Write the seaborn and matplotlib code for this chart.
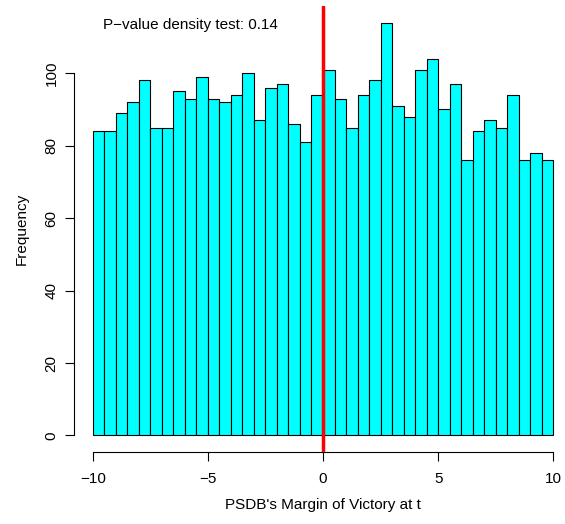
import numpy as np
import pandas as pd
import matplotlib
matplotlib.use("Agg")
import matplotlib.pyplot as plt
import seaborn as sns

# Data: histogram counts of PSDB's margin of victory, bins of width 0.5 from -10 to 10
bin_start, bin_end, bin_width = -10, 10, 0.5
counts = [84, 84, 89, 92, 98, 85, 85, 95, 93, 99,
          93, 92, 94, 100, 87, 96, 97, 86, 81, 94,
          101, 93, 85, 94, 98, 114, 91, 88, 101, 104,
          90, 97, 76, 84, 87, 85, 94, 76, 78, 76]
x_ticks = [-10, -5, 0, 5, 10]
y_ticks = [0, 20, 40, 60, 80, 100]
cutoff = 0
annotation = "P\u2212value density test: 0.14"
x_label = "PSDB's Margin of Victory at t"
y_label = "Frequency"

centers = bin_start + bin_width * (np.arange(len(counts)) + 0.5)
df = pd.DataFrame({"margin": centers, "count": counts})

sns.set_style("white")
plt.rcParams["font.family"] = ["Liberation Sans", "DejaVu Sans"]
plt.rcParams["axes.unicode_minus"] = True

W, H = 565, 524
fig = plt.figure(figsize=(W / 100, H / 100), dpi=100)
left_px, right_px, top_px, bot_px = 74.3, 571.7, 6.0, 452.0
ax = fig.add_axes([left_px / W, 1 - bot_px / H, (right_px - left_px) / W, (bot_px - top_px) / H])

sns.histplot(data=df, x="margin", weights="count", binwidth=bin_width,
             binrange=(bin_start, bin_end), stat="count",
             color="#00FFFF", edgecolor="black", linewidth=0.8, alpha=1.0, ax=ax)

ax.set_xlim(-10.8, 10.8)
ax.set_ylim(-4.56, 118.56)

ax.axvline(cutoff, color="#FF0000", lw=2.5, zorder=5)

for s in ["top", "right"]:
    ax.spines[s].set_visible(False)
ax.spines["left"].set_bounds(0, 100)
ax.spines["bottom"].set_bounds(-10, 10)
for s in ["left", "bottom"]:
    ax.spines[s].set_color("black")
    ax.spines[s].set_linewidth(0.8)

ax.set_xticks(x_ticks)
ax.set_yticks(y_ticks)
ax.set_xticklabels([str(v).replace("-", "\u2212") for v in x_ticks])
ax.set_yticklabels([str(v) for v in y_ticks], rotation=90, va="center")
ax.tick_params(axis="both", which="major", direction="out", length=6.3, width=0.8,
               color="black", labelsize=11, labelcolor="black", left=True, bottom=True)
ax.tick_params(axis="x", pad=8)
ax.tick_params(axis="y", pad=5)

ax.set_xlabel(x_label, fontsize=11, color="black")
ax.set_ylabel(y_label, fontsize=11, color="black")
ax.xaxis.set_label_coords(0.5, -53 / (bot_px - top_px))
ax.xaxis.label.set_va("center")
ax.yaxis.set_label_coords((22 - left_px) / (right_px - left_px), 0.5)
ax.yaxis.label.set_va("center")

fig.text(103.3 / W, 1 - 25 / H, annotation, fontsize=11, ha="left", va="center", color="black")

fig.savefig("out.png", dpi=100, facecolor="white")
